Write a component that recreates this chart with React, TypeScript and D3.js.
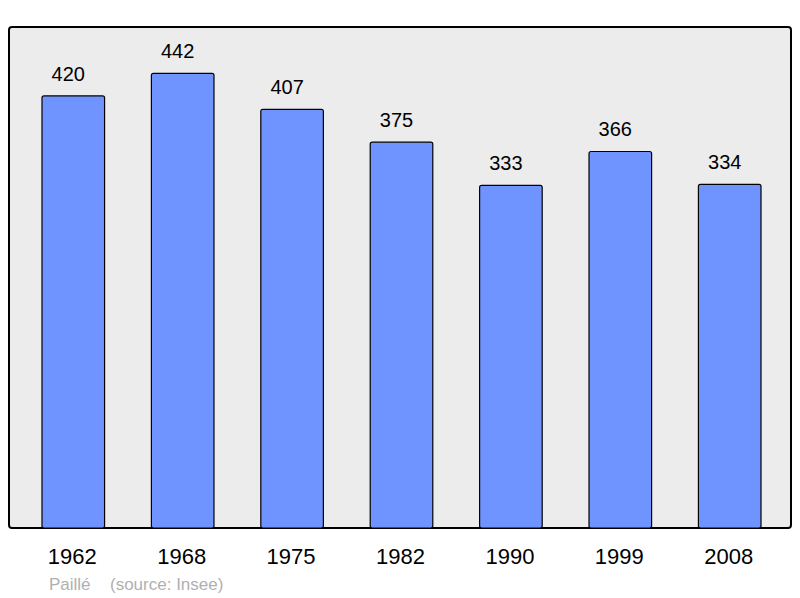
import * as d3 from 'd3';
import React from 'react';

const years = ['1962', '1968', '1975', '1982', '1990', '1999', '2008'];
const population = [420, 442, 407, 375, 333, 366, 334];
const townName = 'Paillé';
const sourceNote = '(source: Insee)';

export default function App() {
  const width = 800, height = 598;
  const frame = {left: 9, top: 27, right: 791, bottom: 528};

  // x band for the bars, y linear from the frame bottom
  const x = d3.scaleBand()
    .domain(years)
    .range([42, 761])
    .paddingInner(0.428)
    .paddingOuter(0);
  const y = d3.scaleLinear()
    .domain([0, 487])
    .range([frame.bottom, frame.top]);

  const font = '"Liberation Sans", Arial, sans-serif';

  return (
    <svg width={width} height={height}
      style={{position: 'absolute', left: 0, top: 0, background: '#fff'}}>
      <rect x={frame.left} y={frame.top}
        width={frame.right - frame.left} height={frame.bottom - frame.top}
        rx={3} fill="#ececec" stroke="#000" strokeWidth={2} />
      {years.map((yr, i) => (
        <g key={yr}>
          <rect x={x(yr)} y={y(population[i])}
            width={x.bandwidth()} height={frame.bottom - y(population[i])}
            rx={2} fill="#7094ff" stroke="#000" strokeWidth={1.2} />
          <text x={(x(yr) as number) + x.bandwidth() / 2 - 5} y={y(population[i]) - 15}
            textAnchor="middle" fontFamily={font} fontSize={20} fill="#000">
            {population[i]}
          </text>
          <text x={(x(yr) as number) + x.bandwidth() / 2 - 1} y={564}
            textAnchor="middle" fontFamily={font} fontSize={22} fill="#000">
            {yr}
          </text>
        </g>
      ))}
      <text x={49} y={590} fontFamily={font} fontSize={17} fill="#b0b0b0">{townName}</text>
      <text x={110} y={590} fontFamily={font} fontSize={17} fill="#b0b0b0">{sourceNote}</text>
    </svg>
  );
}
